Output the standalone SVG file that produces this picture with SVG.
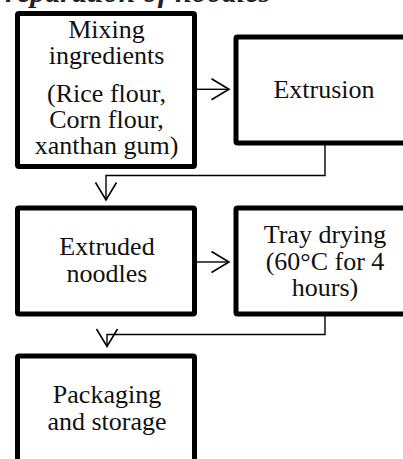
<svg xmlns="http://www.w3.org/2000/svg" width="403" height="459" viewBox="0 0 403 459">
<style>
.box{fill:#fff;stroke:#000;stroke-width:5}
.t{font-family:"Liberation Serif","Times New Roman",serif;font-size:26px;fill:#111;text-anchor:middle}
.c{fill:none;stroke:#000;stroke-width:1.4}
.title{font-family:"Liberation Serif","Times New Roman",serif;font-size:30px;font-weight:bold;font-style:italic;fill:#222}
</style>
<defs>
<marker id="ah" viewBox="-20 -12 22 24" markerWidth="22" markerHeight="24" refX="0" refY="0" orient="auto" markerUnits="userSpaceOnUse">
<path d="M-17.5,-10.5 L0,0 L-17.5,10.5" fill="none" stroke="#000" stroke-width="1.6"/>
</marker>
</defs>
<rect width="403" height="459" fill="#fff"/>
<text class="title" x="-13" y="2">Preparation of noodles</text>
<g id="connectors">
<path class="c" d="M197,89.3 H229" marker-end="url(#ah)"/>
<path class="c" d="M325,145 V175.5 H106 V200" marker-end="url(#ah)"/>
<path class="c" d="M197,262 H229" marker-end="url(#ah)"/>
<path class="c" d="M325,316 V334.5 H107 V346.5" marker-end="url(#ah)"/>
</g>
<g id="mixing">
<rect class="box" x="17.5" y="13.5" width="177" height="153" rx="1.5"/>
<text class="t" x="106.5" y="38">Mixing</text>
<text class="t" x="106.5" y="64">ingredients</text>
<text class="t" x="106.5" y="102">(Rice flour,</text>
<text class="t" x="106.5" y="128">Corn flour,</text>
<text class="t" x="106.5" y="154">xanthan gum)</text>
</g>
<g id="extrusion">
<rect class="box" x="236" y="37" width="200" height="106" rx="1.5"/>
<text class="t" x="324" y="98">Extrusion</text>
</g>
<g id="extruded">
<rect class="box" x="17.5" y="208" width="177" height="106" rx="1.5"/>
<text class="t" x="107" y="255">Extruded</text>
<text class="t" x="107" y="282">noodles</text>
</g>
<g id="tray">
<rect class="box" x="236" y="208" width="200" height="106" rx="1.5"/>
<text class="t" x="325" y="243">Tray drying</text>
<text class="t" x="325" y="270">(60°C for 4</text>
<text class="t" x="325" y="296">hours)</text>
</g>
<g id="packaging">
<rect class="box" x="17.5" y="356" width="177" height="140" rx="1.5"/>
<text class="t" x="107" y="403">Packaging</text>
<text class="t" x="107" y="430">and storage</text>
</g>
</svg>
